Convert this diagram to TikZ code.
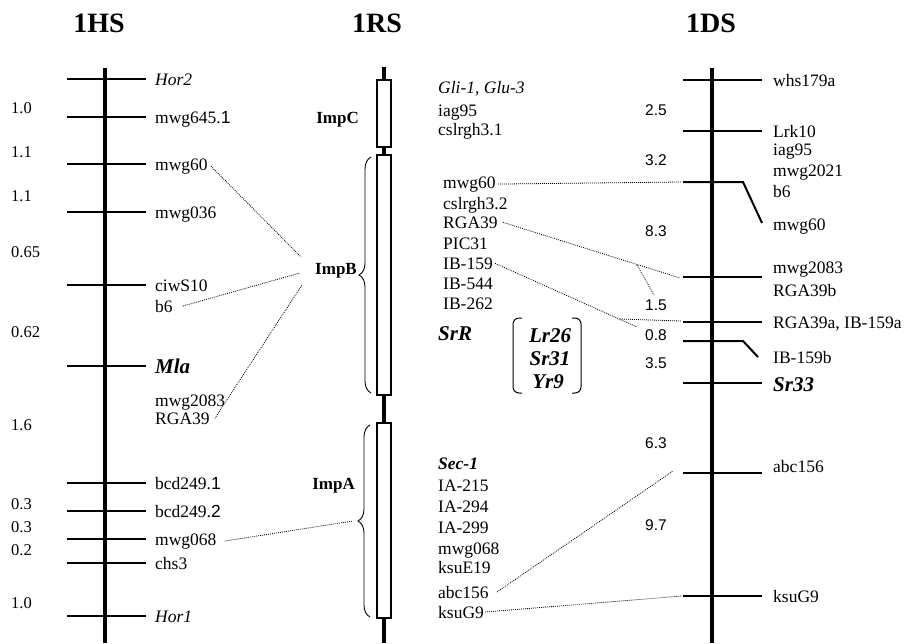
\documentclass[tikz,border=0pt]{standalone}
\usepackage{fontspec}
\setmainfont{Liberation Serif}
\setsansfont{Liberation Sans}
\usetikzlibrary{decorations.pathreplacing}
\begin{document}
\begin{tikzpicture}[x=1pt,y=-1pt,
  chrom/.style={line width=4.2pt},
  tickln/.style={line width=2pt},
  link/.style={line width=0.8pt, dash pattern=on 0.9pt off 1.1pt},
  lab/.style={anchor=base west, inner sep=0pt, font=\fontsize{17.5}{20}\selectfont},
  ilab/.style={lab, font=\fontsize{17.5}{20}\selectfont\itshape},
  bilab/.style={lab, font=\fontsize{21}{24}\selectfont\bfseries\itshape},
  bislab/.style={lab, font=\fontsize{17.5}{20}\selectfont\bfseries\itshape},
  implab/.style={anchor=base east, inner sep=0pt, font=\fontsize{17}{20}\selectfont\bfseries},
  hdist/.style={anchor=base west, inner sep=0pt, font=\fontsize{16.5}{19}\selectfont},
  ddist/.style={anchor=base, inner sep=0pt, font=\fontsize{15.5}{18}\selectfont\sffamily},
  ttl/.style={anchor=base, inner sep=0pt, font=\fontsize{28}{32}\selectfont\bfseries},
  impbox/.style={draw, fill=white, line width=1.3pt},
  brc/.style={line width=0.9pt, decorate, decoration={brace, amplitude=12pt}},
  bracket/.style={line width=1pt, rounded corners=6pt}
]
\useasboundingbox (0,0) rectangle (907,643);

% titles
\node[ttl] (tHS) at (99,32) {1HS};
\node[ttl] (tRS) at (377,32) {1RS};
\node[ttl] (tDS) at (711,32) {1DS};

% ---------------- 1HS ----------------
\draw[chrom] (105,68) -- (105,643);
\foreach \y in {79,117,164,212,285,366,483,511,539,563,616}
  \draw[tickln] (67,\y) -- (146,\y);

\node[ilab] (hHor2) at (155,85) {Hor2};
\node[lab] (h645) at (155,123) {mwg645.{\sffamily 1}};
\node[lab] (h60) at (155,170) {mwg60};
\node[lab] (h036) at (155,218) {mwg036};
\node[lab] (hciw) at (155,291) {ciwS10};
\node[lab] (hb6) at (155,312) {b6};
\node[bilab] (hMla) at (155,373) {Mla};
\node[lab] (h2083) at (155,406) {mwg2083};
\node[lab] (hRGA) at (155,424) {RGA39};
\node[lab] (hbcd1) at (155,489) {bcd249.{\sffamily 1}};
\node[lab] (hbcd2) at (155,517) {bcd249.{\sffamily 2}};
\node[lab] (h068) at (155,545) {mwg068};
\node[lab] (hchs) at (155,569) {chs3};
\node[ilab] (hHor1) at (155,622) {Hor1};

\node[hdist] (hd1) at (11,113.6) {1.0};
\node[hdist] (hd2) at (11,157.6) {1.1};
\node[hdist] (hd3) at (11,201.6) {1.1};
\node[hdist] (hd4) at (11,257.6) {0.65};
\node[hdist] (hd5) at (11,337.6) {0.62};
\node[hdist] (hd6) at (11,430.6) {1.6};
\node[hdist] (hd7) at (11,509.6) {0.3};
\node[hdist] (hd8) at (11,532.6) {0.3};
\node[hdist] (hd9) at (11,555.6) {0.2};
\node[hdist] (hd10) at (11,608.6) {1.0};

% ---------------- 1RS ----------------
\draw[chrom] (384,67) -- (384,643);
\draw[impbox] (377,80) rectangle (391,147);
\draw[impbox] (377,155) rectangle (391,395);
\draw[impbox] (377,423) rectangle (391,618);
\draw[brc] (371,393) -- (371,157);
\draw[brc] (370,617) -- (370,425);
\coordinate (impBtip) at (359,275);
\coordinate (impAtip) at (353,521);

\node[implab] (ImpC) at (359,123) {ImpC};
\node[implab] (ImpB) at (357,274) {ImpB};
\node[implab] (ImpA) at (355,489) {ImpA};

\node[ilab] (rGli) at (438,93) {Gli-1, Glu-3};
\node[lab] (riag) at (438,116) {iag95};
\node[lab] (rcs1) at (438,135) {cslrgh3.1};
\node[lab] (r60) at (443,188) {mwg60};
\node[lab] (rcs2) at (443,209) {cslrgh3.2};
\node[lab] (rRGA) at (443,228) {RGA39};
\node[lab] (rPIC) at (443,249) {PIC31};
\node[lab] (rIB159) at (443,269) {IB-159};
\node[lab] (rIB544) at (443,289) {IB-544};
\node[lab] (rIB262) at (443,309) {IB-262};
\node[bilab] (rSrR) at (438,340) {SrR};
\node[bilab, anchor=base] (rLr) at (550,342) {Lr26};
\node[bilab, anchor=base] (rSr) at (550,365) {Sr31};
\node[bilab, anchor=base] (rYr) at (548,388) {Yr9};
\draw[bracket] (522,318) -- (513,318) -- (513,393) -- (522,393);
\draw[bracket] (572,318) -- (581,318) -- (581,393) -- (572,393);

\node[bislab] (rSec) at (438,469) {Sec-1};
\node[lab] (rIA215) at (438,491) {IA-215};
\node[lab] (rIA294) at (438,512) {IA-294};
\node[lab] (rIA299) at (438,533) {IA-299};
\node[lab] (r068) at (438,554) {mwg068};
\node[lab] (rksuE) at (438,573) {ksuE19};
\node[lab] (rabc) at (438,598) {abc156};
\node[lab] (rksuG) at (438,618) {ksuG9};

% ---------------- 1DS ----------------
\draw[chrom] (712,68) -- (712,643);
\foreach \y in {80,131,277,322,383,473,596}
  \draw[tickln] (683,\y) -- (762,\y);
\draw[tickln] (683,182) -- (743,182) -- (762,223);
\draw[tickln] (683,341) -- (743,341) -- (758,357);

\node[lab] (dwhs) at (773,86) {whs179a};
\node[lab] (dLrk) at (773,137) {Lrk10};
\node[lab] (diag) at (773,155) {iag95};
\node[lab] (d2021) at (773,176) {mwg2021};
\node[lab] (db6) at (773,197) {b6};
\node[lab] (d60) at (773,230) {mwg60};
\node[lab] (d2083) at (773,273) {mwg2083};
\node[lab] (dRGAb) at (773,296) {RGA39b};
\node[lab] (dRGAa) at (773,328) {RGA39a, IB-159a};
\node[lab] (dIBb) at (773,363) {IB-159b};
\node[bilab] (dSr33) at (773,391) {Sr33};
\node[lab] (dabc) at (773,472) {abc156};
\node[lab] (dksuG) at (773,602) {ksuG9};

\node[ddist] (dd1) at (656,115.5) {2.5};
\node[ddist] (dd2) at (656,165.5) {3.2};
\node[ddist] (dd3) at (656,236.5) {8.3};
\node[ddist] (dd4) at (656,310.5) {1.5};
\node[ddist] (dd5) at (656,340.5) {0.8};
\node[ddist] (dd6) at (656,368.5) {3.5};
\node[ddist] (dd7) at (656,448.5) {6.3};
\node[ddist] (dd8) at (656,530.5) {9.7};

% ---------------- dotted connectors ----------------
\coordinate (hB1) at (301,257);
\coordinate (hB2) at (300,273);
\coordinate (hB3) at (302,285);
\coordinate (t60) at (681,182);
\coordinate (t2083) at (680,278);
\coordinate (tRGAa) at (681,321);
\coordinate (tabc) at (673,471);
\coordinate (tksuG) at (682,596);
\coordinate (rgaFork) at (637,265);
\coordinate (rgaEnd) at (654,295);
\coordinate (ibEnd) at (637,327);
\coordinate (ibFork) at (620,319);

\draw[link] ([xshift=3pt]h60.east) -- (hB1);
\draw[link] ([xshift=10pt]hb6.east) -- (hB2);
\draw[link] ([xshift=5pt]hRGA.east) -- (hB3);
\draw[link] ([xshift=8pt]h068.east) -- (impAtip);
\draw[link] ([xshift=2pt]r60.east) -- (t60);
\draw[link] ([xshift=5pt]rRGA.east) -- (t2083);
\draw[link] (rgaFork) -- (rgaEnd);
\draw[link] ([xshift=2pt]rIB159.east) -- (ibEnd);
\draw[link] (ibFork) -- (tRGAa);
\draw[link] ([xshift=8pt]rabc.east) -- (tabc);
\draw[link] ([xshift=1pt]rksuG.east) -- (tksuG);
\end{tikzpicture}
\end{document}
